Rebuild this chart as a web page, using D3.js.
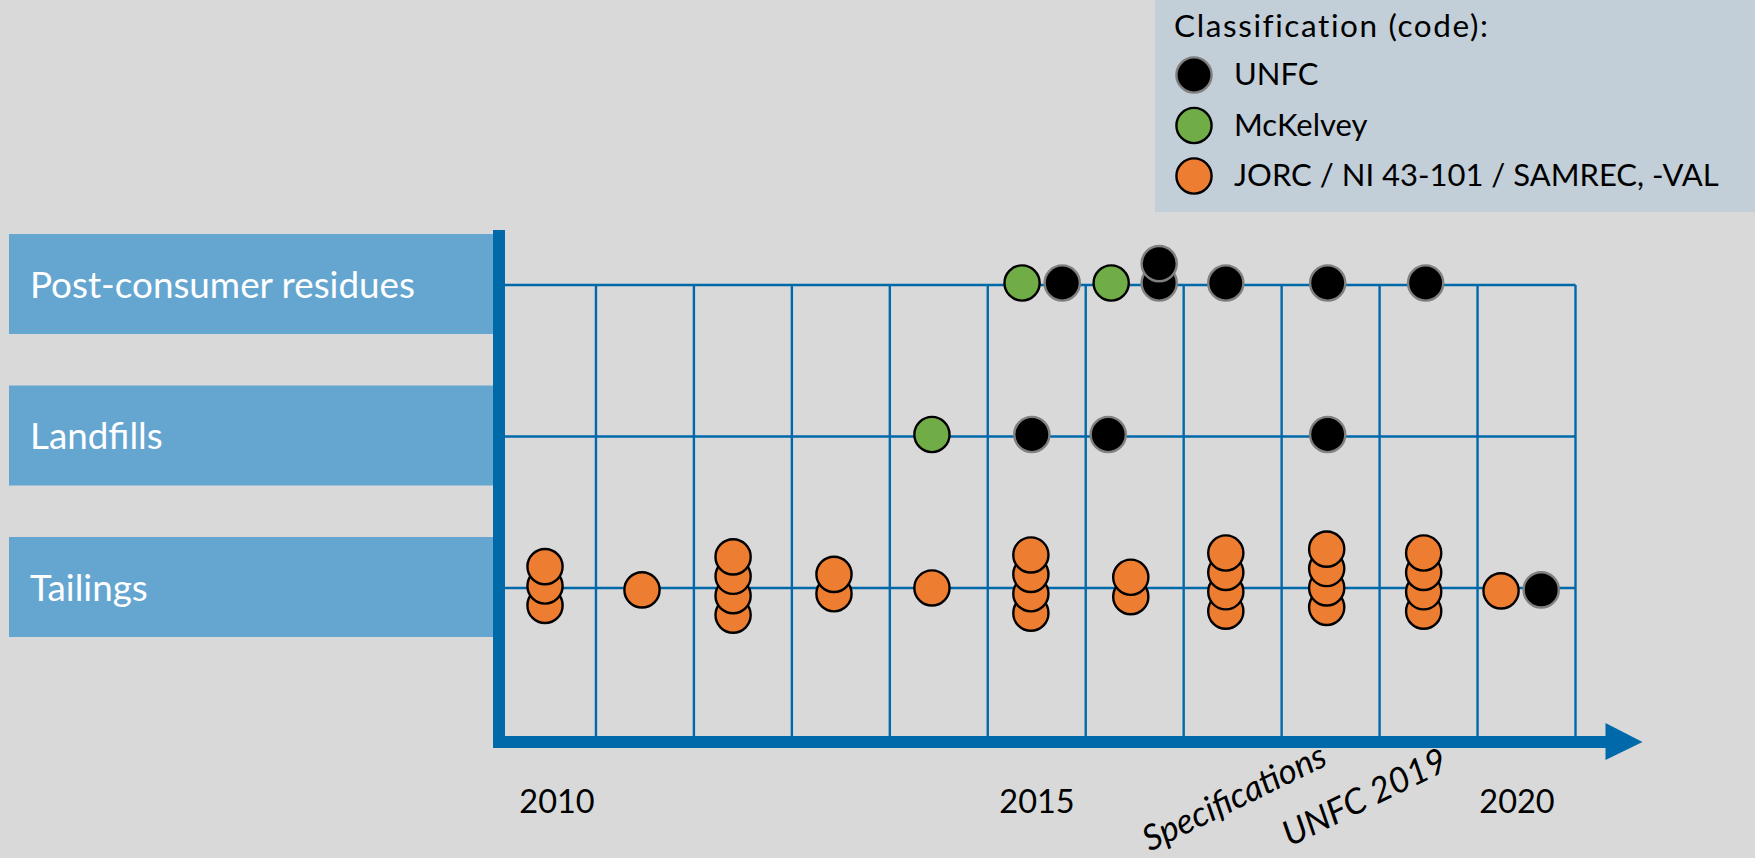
<!DOCTYPE html>
<html>
<head>
<meta charset="utf-8">
<script src="https://cdn.jsdelivr.net/npm/d3@7"></script>
<style>
  html, body { margin: 0; padding: 0; background: #d9d9d9; }
  svg { display: block; font-family: Lato, "Open Sans", sans-serif; }
</style>
</head>
<body>
<svg id="chart"></svg>
<script>
      // categories (rows, top to bottom) and classification codes
      const rowNames = ["Post-consumer residues", "Landfills", "Tailings"];
      const codes = ["UNFC", "McKelvey", "JORC / NI 43-101 / SAMREC, -VAL"];
      const legendTitle = "Classification (code):";

      // publications per row: year (decimal), code, number stacked, stack base level
      const postConsumer = [
        {year: 2015.35, code: "McKelvey", n: 1, base: 0},
        {year: 2015.76, code: "UNFC", n: 1, base: 0},
        {year: 2016.26, code: "McKelvey", n: 1, base: 0},
        {year: 2016.75, code: "UNFC", n: 2, base: 0},
        {year: 2017.43, code: "UNFC", n: 1, base: 0},
        {year: 2018.47, code: "UNFC", n: 1, base: 0},
        {year: 2019.47, code: "UNFC", n: 1, base: 0}
      ];
      const landfills = [
        {year: 2014.43, code: "McKelvey", n: 1, base: 0},
        {year: 2015.45, code: "UNFC", n: 1, base: 0},
        {year: 2016.23, code: "UNFC", n: 1, base: 0},
        {year: 2018.47, code: "UNFC", n: 1, base: 0}
      ];
      const tailings = [
        {year: 2010.48, code: "JORC / NI 43-101 / SAMREC, -VAL", n: 3, base: -1},
        {year: 2011.47, code: "JORC / NI 43-101 / SAMREC, -VAL", n: 1, base: -0.2},
        {year: 2012.40, code: "JORC / NI 43-101 / SAMREC, -VAL", n: 4, base: -1.5},
        {year: 2013.43, code: "JORC / NI 43-101 / SAMREC, -VAL", n: 2, base: -0.4},
        {year: 2014.43, code: "JORC / NI 43-101 / SAMREC, -VAL", n: 1, base: -0.1},
        {year: 2015.44, code: "JORC / NI 43-101 / SAMREC, -VAL", n: 4, base: -1.4},
        {year: 2016.46, code: "JORC / NI 43-101 / SAMREC, -VAL", n: 2, base: -0.55},
        {year: 2017.43, code: "JORC / NI 43-101 / SAMREC, -VAL", n: 4, base: -1.3},
        {year: 2018.46, code: "JORC / NI 43-101 / SAMREC, -VAL", n: 4, base: -1.1},
        {year: 2019.45, code: "JORC / NI 43-101 / SAMREC, -VAL", n: 4, base: -1.3},
        {year: 2020.24, code: "JORC / NI 43-101 / SAMREC, -VAL", n: 1, base: -0.25},
        {year: 2020.65, code: "UNFC", n: 1, base: -0.2}
      ];

      // x axis labels and rotated notes
      const tickYears = [2010, 2015, 2020];
      const notes = [
        {label: "Specifications", year: 2017.57},
        {label: "UNFC 2019", year: 2018.9}
      ];

      const W = 1755, H = 858;
      const axisColor = "#0069aa";
      const fills = {"UNFC": "#000000", "McKelvey": "#70ad47", "JORC / NI 43-101 / SAMREC, -VAL": "#ed7d31"};
      const strokes = {"UNFC": "#808080", "McKelvey": "#000000", "JORC / NI 43-101 / SAMREC, -VAL": "#000000"};
      const R = 17.6, step = 19.4;

      var svg = d3.select("#chart").attr("width", W).attr("height", H);
      svg.append("rect").attr("width", W).attr("height", H).attr("fill", "#d9d9d9");

      var x = d3.scaleLinear().domain([2010, 2021]).range([498, 1575.5]);
      // the year labels sit a little off the cell centres, spaced evenly
      var xLabel = d3.scaleLinear().domain([2010, 2020]).range([557, 1517]);
      var y = d3.scalePoint().domain(rowNames).range([285, 588]);
      var axisY = 742;

      // row label boxes
      var labels = svg.append("g");
      labels.selectAll("rect").data(rowNames).enter().append("rect")
        .attr("x", 9).attr("y", d => y(d) - 51)
        .attr("width", 485).attr("height", 100)
        .attr("fill", "#65a6d1");
      labels.selectAll("text").data(rowNames).enter().append("text")
        .attr("x", 30).attr("y", d => y(d) + 12.5)
        .attr("fill", "#ffffff").attr("font-size", 36.8)
        .text(d => d);

      // grid
      var grid = svg.append("g").attr("stroke", axisColor).attr("stroke-width", 2.4);
      grid.selectAll("line.h").data(rowNames).enter().append("line")
        .attr("x1", x(2010)).attr("x2", x(2021))
        .attr("y1", d => y(d)).attr("y2", d => y(d));
      grid.selectAll("line.v").data(d3.range(2011, 2022)).enter().append("line")
        .attr("x1", d => x(d)).attr("x2", d => x(d))
        .attr("y1", y(rowNames[0])).attr("y2", axisY);

      // axes: vertical bar and horizontal arrow
      svg.append("rect").attr("x", x(2010) - 5).attr("y", 230)
        .attr("width", 12).attr("height", axisY + 6 - 230).attr("fill", axisColor);
      svg.append("rect").attr("x", x(2010) - 5).attr("y", axisY - 6)
        .attr("width", x(2021) + 31 - (x(2010) - 5)).attr("height", 12).attr("fill", axisColor);
      svg.append("path")
        .attr("d", "M" + (x(2021) + 30) + "," + (axisY - 19) + "L" + (x(2021) + 67) + "," + axisY +
                   "L" + (x(2021) + 30) + "," + (axisY + 18) + "Z")
        .attr("fill", axisColor);

      // year labels
      svg.append("g").selectAll("text").data(tickYears).enter().append("text")
        .attr("x", d => xLabel(d)).attr("y", 813)
        .attr("text-anchor", "middle").attr("font-size", 32.5).attr("fill", "#000")
        .text(d => d);

      // rotated notes
      svg.append("g").selectAll("text").data(notes).enter().append("text")
        .attr("transform", d => "translate(" + x(d.year) + ",808) rotate(-26)")
        .attr("text-anchor", "middle").attr("font-size", 35).attr("font-style", "italic")
        .attr("fill", "#000")
        .text(d => d.label);

      // dots: expand stacks, bottom dot first so the top one is drawn last
      var series = [postConsumer, landfills, tailings];
      var dots = [];
      series.forEach(function(rows, i) {
        rows.forEach(function(s) {
          for (var k = 0; k < s.n; k++) dots.push({row: rowNames[i], year: s.year, code: s.code, level: s.base + k});
        });
      });
      svg.append("g").selectAll("circle").data(dots).enter().append("circle")
        .attr("cx", d => x(d.year))
        .attr("cy", d => y(d.row) - 2 - d.level * step)
        .attr("r", R)
        .attr("fill", d => fills[d.code])
        .attr("stroke", d => strokes[d.code])
        .attr("stroke-width", 2.4);

      // legend
      var legend = svg.append("g");
      legend.append("rect").attr("x", 1155).attr("y", 0).attr("width", W - 1155).attr("height", 212)
        .attr("fill", "#c2ced8");
      legend.append("text").attr("x", 1174).attr("y", 37).attr("font-size", 31.5)
        .attr("letter-spacing", 1.6).text(legendTitle);
      var items = legend.selectAll("g.item").data(codes).enter().append("g")
        .attr("transform", (d, i) => "translate(0," + (75 + i * 50.5) + ")");
      items.append("circle").attr("cx", 1194).attr("cy", 0).attr("r", R)
        .attr("fill", d => fills[d]).attr("stroke", d => strokes[d]).attr("stroke-width", 2.4);
      items.append("text").attr("x", 1234).attr("y", 10).attr("font-size", 31).text(d => d);
</script>
</body>
</html>
